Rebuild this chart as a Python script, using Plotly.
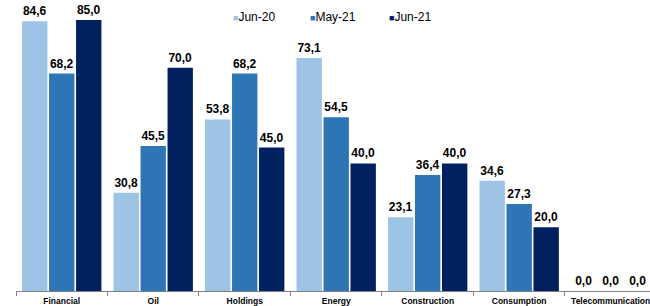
import plotly.graph_objects as go

categories = ["Financial", "Oil", "Holdings", "Energy", "Construction", "Consumption", "Telecommunication"]
jun20 = [84.6, 30.8, 53.8, 73.1, 23.1, 34.6, 0.0]
may21 = [68.2, 45.5, 68.2, 54.5, 36.4, 27.3, 0.0]
jun21 = [85.0, 70.0, 45.0, 40.0, 40.0, 20.0, 0.0]
series_names = ["Jun-20", "May-21", "Jun-21"]
colors = ["#9DC3E6", "#2E75B6", "#002060"]

fig = go.Figure()
for name, vals, col in zip(series_names, [jun20, may21, jun21], colors):
    fig.add_trace(go.Bar(
        x=categories, y=vals, name=name, marker_color=col, marker_line_width=0,
        texttemplate="%{y:.1f}", textposition="outside", cliponaxis=False,
        textfont=dict(family="Liberation Sans, Arial", size=12, color="#000000", weight="bold"),
        showlegend=False, hoverinfo="skip",
    ))

# legend drawn as text entries (pixel positions converted to paper coords below)
leg_x = [231, 308, 387]
for name, col, lx in zip(series_names, colors, leg_x):
    fig.add_annotation(
        x=lx, y=306 - 17, xref="paper", yref="paper", showarrow=False,
        xanchor="left", yanchor="middle",
        text=f'<span style="color:{col};font-size:9px">■</span>{name}',
        font=dict(family="Liberation Sans, Arial", size=12, color="#000000"),
    )

ML, MT, MB = 16, 4, 15
fig.update_layout(
    width=650, height=306,
    margin=dict(l=ML, r=0, t=MT, b=MB, autoexpand=False),
    paper_bgcolor="white", plot_bgcolor="white",
    barmode="group", bargap=0.115, bargroupgap=0.06,
    separators=",.",
    xaxis=dict(
        range=[-0.5, 6.43], showline=True, linecolor="#808080", linewidth=1,
        ticks="outside", tickson="boundaries", ticklen=4, tickcolor="#808080",
        ticklabelstandoff=2,
        tickfont=dict(family="Liberation Sans, Arial", size=8.5, color="#000000", weight="bold"),
        showgrid=False, fixedrange=True, automargin=False,
    ),
    yaxis=dict(range=[0, 90], visible=False, showgrid=False, fixedrange=True),
)

pw = 650 - ML
ph = 306 - MT - MB
for ann in fig.layout.annotations:
    ann.x = (ann.x - ML) / pw
    ann.y = (ann.y - MB) / ph

fig.write_html("out.html", config={"displayModeBar": False},
               post_script="document.body.style.margin='0';document.body.style.overflow='hidden';")
